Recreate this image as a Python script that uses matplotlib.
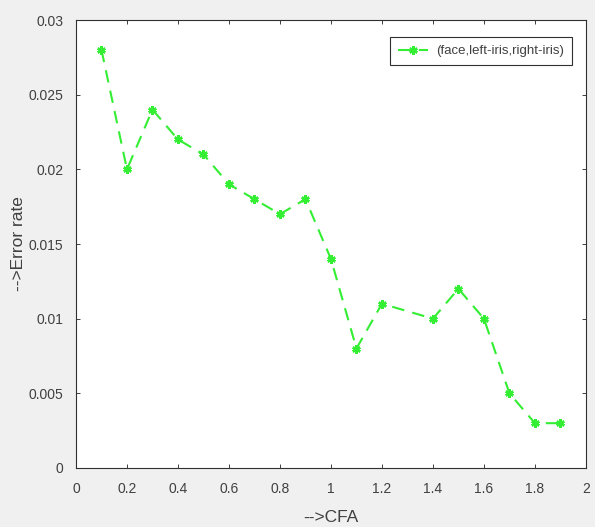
import matplotlib
matplotlib.use("Agg")
import matplotlib.pyplot as plt

# values
cfa = [0.1, 0.2, 0.3, 0.4, 0.5, 0.6, 0.7, 0.8, 0.9, 1.0,
       1.1, 1.2, 1.4, 1.5, 1.6, 1.7, 1.8, 1.9]
error_rate = [0.028, 0.020, 0.024, 0.022, 0.021, 0.019, 0.018, 0.017, 0.018,
              0.014, 0.008, 0.011, 0.010, 0.012, 0.010, 0.005, 0.003, 0.003]
x_ticks = [0, 0.2, 0.4, 0.6, 0.8, 1, 1.2, 1.4, 1.6, 1.8, 2]
x_labels = ["0", "0.2", "0.4", "0.6", "0.8", "1", "1.2", "1.4", "1.6", "1.8", "2"]
y_ticks = [0, 0.005, 0.01, 0.015, 0.02, 0.025, 0.03]
y_labels = ["0", "0.005", "0.01", "0.015", "0.02", "0.025", "0.03"]
series_label = "(face,left-iris,right-iris)"

plt.rcParams["font.family"] = ["Liberation Sans", "DejaVu Sans"]
text_col = "#404040"
edge_col = "#303030"

fig = plt.figure(figsize=(5.95, 5.27), dpi=100, facecolor="#f0f0f0")
ax = fig.add_axes([0.1277, 0.112, 0.857, 0.85])
ax.set_facecolor("white")

# MATLAB-style asterisk marker
ax.plot(cfa, error_rate, color="#33ee33", marker=(6, 2, 0), markersize=6,
        markeredgewidth=1.8, linewidth=1.5, dashes=(6, 4), label=series_label)

ax.set_xlim(0, 2)
ax.set_ylim(0, 0.03)
ax.set_xticks(x_ticks)
ax.set_xticklabels(x_labels)
ax.set_yticks(y_ticks)
ax.set_yticklabels(y_labels)
ax.tick_params(direction="in", length=3, width=0.7, top=True, right=True,
               labelsize=10, colors=text_col)
ax.tick_params(axis="x", pad=10)
ax.tick_params(axis="y", pad=9)
for sp in ax.spines.values():
    sp.set_color(edge_col)
    sp.set_linewidth(0.8)

ax.set_xlabel("-->CFA", fontsize=12.5, color=text_col, labelpad=10)
ax.set_ylabel("-->Error rate", fontsize=12.5, color=text_col, labelpad=2)

leg = ax.legend(loc="upper right", fontsize=9.5, fancybox=False, framealpha=1,
                edgecolor=edge_col, handlelength=2.3, borderpad=0.6,
                handletextpad=0.6, borderaxespad=0,
                bbox_to_anchor=(0.973, 0.962))
leg.get_frame().set_linewidth(0.8)
for t in leg.get_texts():
    t.set_color(text_col)

fig.savefig("out.png", dpi=100, facecolor=fig.get_facecolor())
